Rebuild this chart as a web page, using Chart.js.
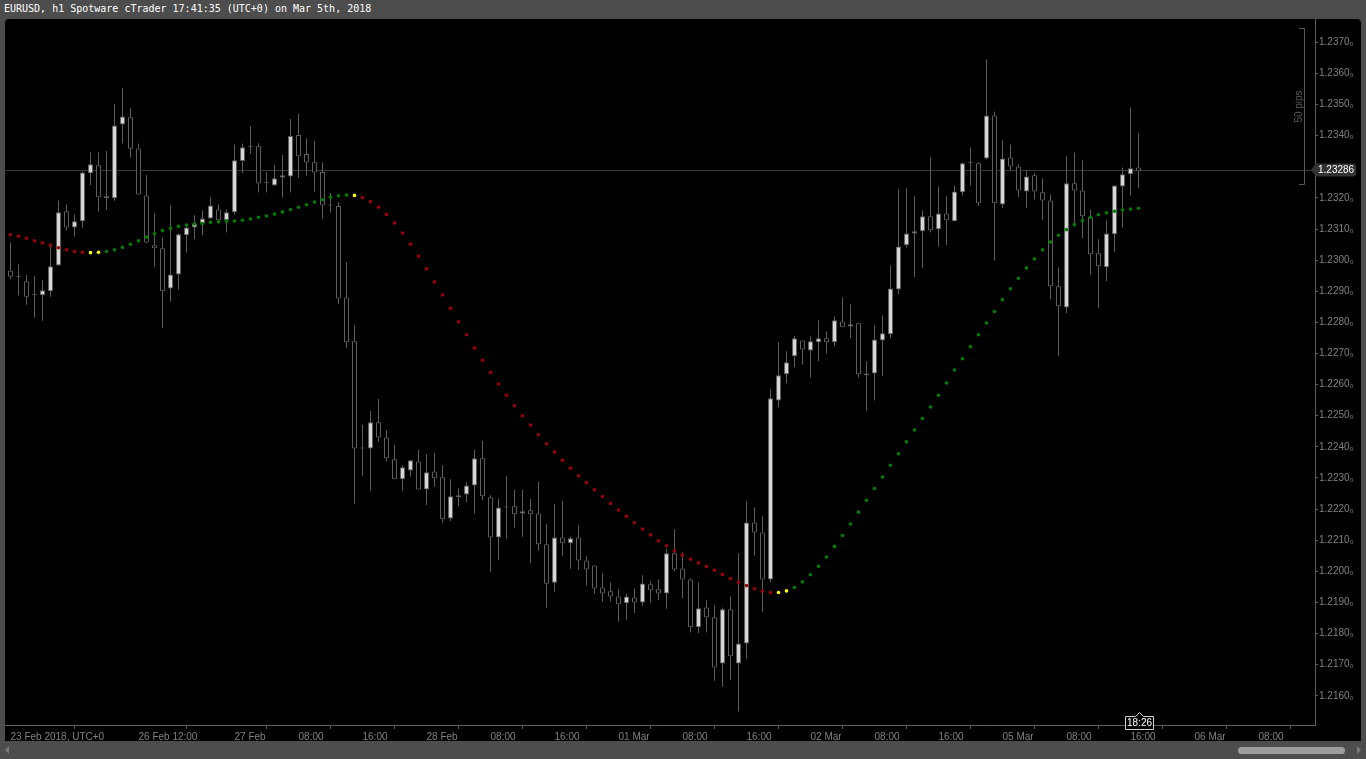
<!DOCTYPE html>
<html>
<head>
<meta charset="utf-8">
<script src="https://cdn.jsdelivr.net/npm/chart.js@4.4.1/dist/chart.umd.min.js"></script>
<style>
  html, body { margin: 0; padding: 0; width: 1366px; height: 759px; overflow: hidden; background: #4d4d4d; }
  #title { position: absolute; left: 4px; top: 3px; font: 10px "DejaVu Sans Mono", monospace; color: #fff; white-space: pre; }
  #panel { position: absolute; left: 5px; top: 19px; width: 1356px; height: 722px; background: #000; border-radius: 4px 4px 0 0; }
  #thumb { position: absolute; left: 1238px; top: 747px; width: 107px; height: 7px; background: #9d9d9d; border-radius: 4px; }
  #arrowL { position: absolute; left: 5px; top: 746px; width: 0; height: 0; border-top: 4px solid transparent; border-bottom: 4px solid transparent; border-right: 4px solid #7a7a7a; }
  #arrowR { position: absolute; left: 1357px; top: 746px; width: 0; height: 0; border-top: 4px solid transparent; border-bottom: 4px solid transparent; border-left: 4px solid #7a7a7a; }
  canvas { position: absolute; left: 0; top: 0; }
</style>
</head>
<body>
<div id="title">EURUSD, h1 Spotware cTrader 17:41:35 (UTC+0) on Mar 5th, 2018</div>
<div id="panel"></div>
<div id="arrowL"></div>
<div id="arrowR"></div>
<div id="thumb"></div>
<canvas id="chart" width="1366" height="759"></canvas>
<script>
// hourly candles, 23 Feb 2018 .. 05 Mar 2018 17:00
var opens = [
  1.22966, 1.22947, 1.22932, 1.22887, 1.22887, 1.22900, 1.22983, 1.23157, 1.23105, 1.23125,
  1.23279, 1.23305, 1.23205, 1.23199, 1.23436, 1.23459, 1.23359, 1.23208, 1.23048, 1.23038,
  1.22909, 1.22954, 1.23080, 1.23105, 1.23118, 1.23134, 1.23163, 1.23128, 1.23154, 1.23319,
  1.23363, 1.23366, 1.23247, 1.23240, 1.23266, 1.23269, 1.23402, 1.23341, 1.23315, 1.23283,
  1.23176, 1.23174, 1.22880, 1.22739, 1.22395, 1.22395, 1.22479, 1.22430, 1.22360, 1.22296,
  1.22324, 1.22353, 1.22263, 1.22321, 1.22302, 1.22170, 1.22238, 1.22247, 1.22276, 1.22363,
  1.22238, 1.22109, 1.22205, 1.22209, 1.22186, 1.22196, 1.22186, 1.22087, 1.21963, 1.22109,
  1.22090, 1.22109, 1.22035, 1.22019, 1.21948, 1.21936, 1.21919, 1.21897, 1.21916, 1.21900,
  1.21958, 1.21942, 1.21929, 1.22058, 1.22009, 1.21974, 1.21820, 1.21884, 1.21852, 1.21704,
  1.21878, 1.21704, 1.21768, 1.22157, 1.22125, 1.21974, 1.22549, 1.22633, 1.22691, 1.22742,
  1.22710, 1.22736, 1.22749, 1.22736, 1.22803, 1.22787, 1.22797, 1.22630, 1.22636, 1.22742,
  1.22762, 1.22906, 1.23048, 1.23086, 1.23093, 1.23141, 1.23099, 1.23150, 1.23125, 1.23218,
  1.23311, 1.23311, 1.23327, 1.23465, 1.23179, 1.23330, 1.23301, 1.23221, 1.23273, 1.23218,
  1.23192, 1.22916, 1.22848, 1.23247, 1.23224, 1.23138, 1.23022, 1.22977, 1.23083, 1.23237,
  1.23276, 1.23298
];
var highs = [
  1.23057, 1.22987, 1.22952, 1.22949, 1.22936, 1.23054, 1.23192, 1.23179, 1.23147, 1.23285,
  1.23347, 1.23347, 1.23351, 1.23502, 1.23553, 1.23489, 1.23375, 1.23273, 1.23150, 1.23073,
  1.23176, 1.23086, 1.23118, 1.23144, 1.23160, 1.23202, 1.23179, 1.23163, 1.23372, 1.23375,
  1.23431, 1.23376, 1.23283, 1.23306, 1.23338, 1.23454, 1.23470, 1.23392, 1.23383, 1.23315,
  1.23216, 1.23187, 1.22994, 1.22791, 1.22470, 1.22515, 1.22554, 1.22454, 1.22406, 1.22341,
  1.22357, 1.22390, 1.22377, 1.22380, 1.22341, 1.22296, 1.22267, 1.22286, 1.22390, 1.22419,
  1.22244, 1.22234, 1.22306, 1.22261, 1.22261, 1.22232, 1.22287, 1.22152, 1.22216, 1.22226,
  1.22112, 1.22148, 1.22048, 1.22019, 1.21993, 1.21964, 1.21942, 1.21929, 1.21945, 1.21987,
  1.21968, 1.21974, 1.22071, 1.22135, 1.22061, 1.21977, 1.21964, 1.21907, 1.21891, 1.21884,
  1.21919, 1.22058, 1.22225, 1.22205, 1.22177, 1.22585, 1.22736, 1.22707, 1.22756, 1.22742,
  1.22755, 1.22807, 1.22771, 1.22819, 1.22880, 1.22858, 1.22797, 1.22675, 1.22790, 1.22823,
  1.22983, 1.23228, 1.23231, 1.23205, 1.23160, 1.23330, 1.23237, 1.23205, 1.23240, 1.23314,
  1.23363, 1.23314, 1.23645, 1.23478, 1.23385, 1.23372, 1.23308, 1.23289, 1.23279, 1.23263,
  1.23211, 1.22977, 1.23334, 1.23346, 1.23321, 1.23163, 1.23067, 1.23128, 1.23240, 1.23298,
  1.23491, 1.23408
];
var lows = [
  1.22939, 1.22886, 1.22857, 1.22815, 1.22805, 1.22882, 1.22983, 1.23095, 1.23075, 1.23104,
  1.23241, 1.23156, 1.23161, 1.23191, 1.23375, 1.23329, 1.23211, 1.23054, 1.22979, 1.22781,
  1.22866, 1.22906, 1.23024, 1.23067, 1.23080, 1.23134, 1.23118, 1.23089, 1.23147, 1.23279,
  1.23341, 1.23217, 1.23217, 1.23240, 1.23201, 1.23217, 1.23265, 1.23271, 1.23220, 1.23133,
  1.23152, 1.22860, 1.22717, 1.22217, 1.22307, 1.22259, 1.22416, 1.22352, 1.22296, 1.22259,
  1.22304, 1.22263, 1.22213, 1.22272, 1.22157, 1.22161, 1.22209, 1.22222, 1.22186, 1.22228,
  1.21998, 1.22036, 1.22105, 1.22140, 1.22111, 1.22027, 1.22066, 1.21883, 1.21934, 1.22050,
  1.22008, 1.22005, 1.21954, 1.21928, 1.21902, 1.21903, 1.21838, 1.21844, 1.21865, 1.21889,
  1.21900, 1.21907, 1.21880, 1.22000, 1.21913, 1.21803, 1.21801, 1.21803, 1.21648, 1.21629,
  1.21651, 1.21549, 1.21720, 1.22051, 1.21868, 1.21964, 1.22527, 1.22604, 1.22656, 1.22665,
  1.22623, 1.22675, 1.22700, 1.22723, 1.22784, 1.22749, 1.22623, 1.22517, 1.22549, 1.22627,
  1.22749, 1.22890, 1.23041, 1.22945, 1.22974, 1.23089, 1.23044, 1.23048, 1.23125, 1.23208,
  1.23240, 1.23175, 1.23324, 1.22999, 1.23167, 1.23289, 1.23202, 1.23167, 1.23195, 1.23128,
  1.22874, 1.22691, 1.22829, 1.23118, 1.23070, 1.22954, 1.22845, 1.22932, 1.23025, 1.23105,
  1.23208, 1.23231
];
var closes = [
  1.22947, 1.22947, 1.22882, 1.22887, 1.22903, 1.22980, 1.23154, 1.23105, 1.23125, 1.23282,
  1.23308, 1.23202, 1.23199, 1.23433, 1.23462, 1.23358, 1.23211, 1.23057, 1.23038, 1.22900,
  1.22954, 1.23083, 1.23105, 1.23118, 1.23134, 1.23176, 1.23128, 1.23154, 1.23321, 1.23363,
  1.23363, 1.23246, 1.23247, 1.23263, 1.23273, 1.23399, 1.23334, 1.23314, 1.23282, 1.23176,
  1.23176, 1.22877, 1.22736, 1.22395, 1.22395, 1.22479, 1.22430, 1.22363, 1.22296, 1.22334,
  1.22357, 1.22263, 1.22318, 1.22299, 1.22167, 1.22241, 1.22244, 1.22276, 1.22363, 1.22241,
  1.22109, 1.22205, 1.22205, 1.22183, 1.22193, 1.22183, 1.22087, 1.21960, 1.22109, 1.22090,
  1.22106, 1.22035, 1.22006, 1.21945, 1.21929, 1.21919, 1.21894, 1.21919, 1.21900, 1.21961,
  1.21939, 1.21929, 1.22058, 1.22006, 1.21974, 1.21820, 1.21881, 1.21852, 1.21691, 1.21878,
  1.21727, 1.21768, 1.22157, 1.22125, 1.21974, 1.22556, 1.22630, 1.22672, 1.22749, 1.22713,
  1.22739, 1.22749, 1.22736, 1.22807, 1.22784, 1.22794, 1.22633, 1.22636, 1.22745, 1.22765,
  1.22909, 1.23044, 1.23086, 1.23093, 1.23141, 1.23096, 1.23150, 1.23128, 1.23221, 1.23311,
  1.23311, 1.23183, 1.23465, 1.23183, 1.23327, 1.23301, 1.23224, 1.23269, 1.23221, 1.23192,
  1.22916, 1.22852, 1.23247, 1.23224, 1.23141, 1.23019, 1.22980, 1.23086, 1.23240, 1.23276,
  1.23295, 1.23286
];

// dotted trend indicator, one value per candle
var signal = [
  1.23082, 1.23077, 1.23070, 1.23062, 1.23055, 1.23048, 1.23040, 1.23033, 1.23028, 1.23025,
  1.23024, 1.23025, 1.23028, 1.23033, 1.23041, 1.23051, 1.23062, 1.23074, 1.23085, 1.23095,
  1.23102, 1.23109, 1.23113, 1.23116, 1.23118, 1.23122, 1.23123, 1.23125, 1.23126, 1.23128,
  1.23132, 1.23138, 1.23142, 1.23148, 1.23155, 1.23162, 1.23170, 1.23178, 1.23187, 1.23194,
  1.23202, 1.23207, 1.23209, 1.23208, 1.23201, 1.23188, 1.23170, 1.23147, 1.23119, 1.23087,
  1.23051, 1.23013, 1.22972, 1.22930, 1.22888, 1.22845, 1.22802, 1.22760, 1.22718, 1.22678,
  1.22639, 1.22602, 1.22566, 1.22532, 1.22500, 1.22470, 1.22439, 1.22410, 1.22383, 1.22357,
  1.22331, 1.22307, 1.22285, 1.22262, 1.22240, 1.22218, 1.22197, 1.22177, 1.22156, 1.22136,
  1.22117, 1.22098, 1.22082, 1.22066, 1.22052, 1.22039, 1.22027, 1.22015, 1.22003, 1.21990,
  1.21977, 1.21965, 1.21954, 1.21944, 1.21936, 1.21932, 1.21932, 1.21937, 1.21948, 1.21966,
  1.21989, 1.22016, 1.22046, 1.22080, 1.22115, 1.22152, 1.22190, 1.22228, 1.22266, 1.22303,
  1.22341, 1.22378, 1.22416, 1.22454, 1.22491, 1.22528, 1.22566, 1.22605, 1.22647, 1.22683,
  1.22722, 1.22760, 1.22798, 1.22835, 1.22873, 1.22908, 1.22942, 1.22975, 1.23004, 1.23033,
  1.23058, 1.23080, 1.23098, 1.23114, 1.23127, 1.23138, 1.23146, 1.23152, 1.23157, 1.23161,
  1.23164, 1.23167
];
// trend state runs of the indicator: [state, number of candles]
var trendRuns = [['down', 10], ['flat', 2], ['up', 31], ['flat', 1], ['down', 52], ['flat', 2], ['up', 44]];

var timeTickIndex  = [0, 16, 28, 36, 44, 52, 60, 68, 76, 84, 92, 100, 108, 116, 124, 132, 140, 148, 156];
var timeTickLabels = ['23 Feb 2018, UTC+0', '26 Feb 12:00', '27 Feb', '08:00', '16:00', '28 Feb', '08:00', '16:00',
                      '01 Mar', '08:00', '16:00', '02 Mar', '08:00', '16:00', '05 Mar', '08:00', '16:00', '06 Mar', '08:00'];
// 1.2330 is hidden by the current price marker
var priceTicks = [1.2160, 1.2170, 1.2180, 1.2190, 1.2200, 1.2210, 1.2220, 1.2230, 1.2240, 1.2250, 1.2260,
                  1.2270, 1.2280, 1.2290, 1.2300, 1.2310, 1.2320, 1.2340, 1.2350, 1.2360, 1.2370];

var priceMin = 1.21506, priceMax = 1.23775;
var indexMin = -0.6875, indexMax = 163.0625;
var rulerTop = 1.23745, rulerPips = 50;
var barTimer = '18:26';

var trendColors = { up: '#008000', down: '#a00000', flat: '#ffff00' };
var lineGrey = '#5e5e5e';
var textGrey = '#808080';

/* build datasets */

var dotColors = [];
trendRuns.forEach(function (run) {
  for (var n = 0; n < run[1]; n++) dotColors.push(trendColors[run[0]]);
});

var bodies = opens.map(function (o, i) { return { x: i, y: [o, closes[i]] }; });
var wicks  = lows.map(function (l, i) { return { x: i, y: [l, highs[i]] }; });
var dots   = signal.map(function (v, i) { return { x: i, y: v }; });
var bodyFill = opens.map(function (o, i) { return closes[i] > o ? '#d6d6d6' : '#000000'; });
var lastPrice = closes[closes.length - 1];

var terminalOverlay = {
  id: 'terminalOverlay',
  beforeDatasetsDraw: function (chart) {
    var ctx = chart.ctx, area = chart.chartArea;
    var y = Math.round(chart.scales.y.getPixelForValue(lastPrice)) - 0.5;
    ctx.save();
    ctx.strokeStyle = '#3a3a3a';
    ctx.lineWidth = 1;
    ctx.beginPath();
    ctx.moveTo(area.left, y);
    ctx.lineTo(area.right, y);
    ctx.stroke();
    ctx.restore();
  },
  afterDraw: function (chart) {
    var ctx = chart.ctx, area = chart.chartArea;
    var ys = chart.scales.y, xs = chart.scales.x;
    ctx.save();

    // 50 pips ruler
    var rt = Math.round(ys.getPixelForValue(rulerTop)) + 0.5;
    var rb = Math.round(ys.getPixelForValue(rulerTop - rulerPips * 0.0001)) + 0.5;
    ctx.strokeStyle = '#5a5a5a';
    ctx.lineWidth = 1;
    ctx.beginPath();
    ctx.moveTo(1299, rt); ctx.lineTo(1304.5, rt); ctx.lineTo(1304.5, rb); ctx.lineTo(1299, rb);
    ctx.stroke();
    ctx.translate(1299, (rt + rb) / 2);
    ctx.rotate(-Math.PI / 2);
    ctx.fillStyle = '#5a5a5a';
    ctx.font = '10px "Liberation Sans"';
    ctx.textAlign = 'center';
    ctx.textBaseline = 'middle';
    ctx.fillText(rulerPips + ' pips', 0, 0);
    ctx.setTransform(1, 0, 0, 1, 0, 0);

    // current price marker
    var py = Math.round(ys.getPixelForValue(lastPrice)) - 1;
    var x0 = area.right;
    ctx.fillStyle = '#333333';
    ctx.beginPath();
    ctx.moveTo(x0 - 4, py);
    ctx.lineTo(x0 + 1, py - 6.5);
    ctx.lineTo(x0 + 38, py - 6.5);
    ctx.quadraticCurveTo(x0 + 41, py - 6.5, x0 + 41, py - 3.5);
    ctx.lineTo(x0 + 41, py + 3.5);
    ctx.quadraticCurveTo(x0 + 41, py + 6.5, x0 + 38, py + 6.5);
    ctx.lineTo(x0 + 1, py + 6.5);
    ctx.closePath();
    ctx.fill();
    ctx.fillStyle = '#ffffff';
    ctx.font = '10px "Liberation Sans"';
    ctx.textAlign = 'left';
    ctx.textBaseline = 'middle';
    ctx.fillText(lastPrice.toFixed(5), x0 + 3, py + 0.5);

    // bar countdown timer under the last candle
    var cx = Math.round(xs.getPixelForValue(closes.length - 1)) + 0.5;
    var top = 716.5, bottom = 729.5;
    ctx.fillStyle = '#000';
    ctx.strokeStyle = '#d0d0d0';
    ctx.beginPath();
    ctx.moveTo(cx - 14, top);
    ctx.lineTo(cx - 4, top);
    ctx.lineTo(cx, top - 4);
    ctx.lineTo(cx + 4, top);
    ctx.lineTo(cx + 14, top);
    ctx.lineTo(cx + 14, bottom);
    ctx.lineTo(cx - 14, bottom);
    ctx.closePath();
    ctx.fill();
    ctx.stroke();
    ctx.fillStyle = '#ffffff';
    ctx.textAlign = 'center';
    ctx.fillText(barTimer, cx, (top + bottom) / 2 + 0.5);
    ctx.restore();
  }
};

var axisFont = { family: '"Liberation Sans", Arial, sans-serif', size: 10 };

new Chart(document.getElementById('chart').getContext('2d'), {
  type: 'bar',
  data: {
    datasets: [
      {
        type: 'scatter',
        data: dots,
        pointBackgroundColor: dotColors,
        pointBorderWidth: 0,
        pointRadius: 1.8,
        pointHoverRadius: 1.8,
        order: 0
      },
      {
        data: bodies,
        backgroundColor: bodyFill,
        borderColor: lineGrey,
        borderWidth: 1,
        borderSkipped: false,
        inflateAmount: 0,
        barThickness: 5,
        minBarLength: 1,
        grouped: false,
        order: 1
      },
      {
        data: wicks,
        backgroundColor: lineGrey,
        borderWidth: 0,
        inflateAmount: 0,
        barThickness: 1,
        grouped: false,
        order: 2
      }
    ]
  },
  options: {
    responsive: false,
    animation: false,
    devicePixelRatio: 1,
    events: [],
    layout: { padding: { left: 5, top: 19, right: 0, bottom: 0 }, autoPadding: false },
    plugins: { legend: { display: false }, tooltip: { enabled: false } },
    scales: {
      x: {
        type: 'linear',
        min: indexMin,
        max: indexMax,
        offset: false,
        grid: { drawOnChartArea: false, tickLength: 4, color: lineGrey },
        border: { color: lineGrey },
        ticks: {
          align: 'start', maxRotation: 0, autoSkip: false, padding: 2,
          color: textGrey, font: axisFont,
          callback: function (v, i) { return timeTickLabels[i]; }
        },
        afterBuildTicks: function (s) { s.ticks = timeTickIndex.map(function (v) { return { value: v }; }); },
        afterFit: function (s) { s.height = 34; }
      },
      y: {
        type: 'linear',
        position: 'right',
        min: priceMin,
        max: priceMax,
        grid: { drawOnChartArea: false, tickLength: 3, color: lineGrey },
        border: { color: lineGrey },
        ticks: {
          padding: 1, color: textGrey, font: axisFont,
          callback: function (v) { return v.toFixed(4) + '\u2080'; }
        },
        afterBuildTicks: function (s) { s.ticks = priceTicks.map(function (v) { return { value: v }; }); },
        afterFit: function (s) { s.width = 51; }
      }
    }
  },
  plugins: [terminalOverlay]
});
</script>
</body>
</html>
